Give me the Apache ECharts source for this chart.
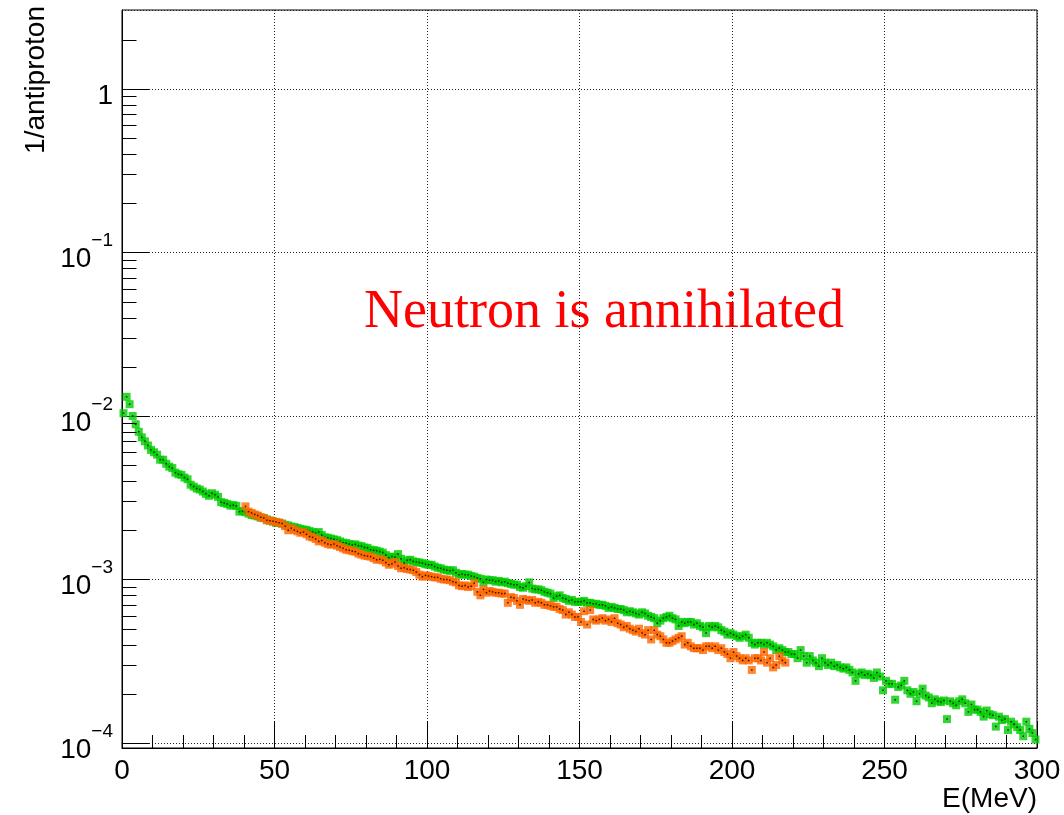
<!DOCTYPE html>
<html>
<head>
<meta charset="utf-8">
<script src="https://cdn.jsdelivr.net/npm/echarts@6/dist/echarts.min.js"></script>
<style>html,body{margin:0;padding:0;background:#fff;}#c{width:1064px;height:815px;}</style>
</head>
<body>
<div id="c"></div>
<script>
// 1 MeV bins; green: 0-300 MeV, orange: 40-218 MeV
const binWidth = 1;
const greenStart = 0;
const orangeStart = 40;
const greenValues = [
0.0104,0.0131,0.0118,0.0100,0.0089,0.0080,0.0074,0.0070,0.0066,0.0062,
0.0060,0.0058,0.0054,0.0054,0.0051,0.0049,0.0048,0.0045,0.0044,0.00436,
0.0042,0.0041,0.0038,0.0037,0.0036,0.00355,0.00345,0.00334,0.00325,0.00337,
0.0033,0.0032,0.00297,0.00294,0.0029,0.00283,0.00285,0.00282,0.0026,0.00262,
0.00258,0.00253,0.00248,0.00246,0.00243,0.00239,0.00237,0.00233,0.00229,0.00226,
0.00222,0.00223,0.00219,0.00216,0.00214,0.00211,0.00209,0.00207,0.00204,0.00202,
0.00201,0.00198,0.00195,0.00192,0.00195,0.00187,0.00181,0.0018,0.00178,0.00176,
0.00174,0.00171,0.00168,0.00167,0.00165,0.00163,0.00164,0.00161,0.0016,0.00157,
0.00156,0.00152,0.00151,0.0015,0.00148,0.00146,0.00141,0.00136,0.00138,0.00137,
0.00143,0.00134,0.00126,0.00131,0.00132,0.00129,0.00128,0.00127,0.00126,0.00124,
0.00123,0.00123,0.0012,0.00118,0.00117,0.00115,0.00114,0.00113,0.00114,0.0011,
0.00107,0.00108,0.00107,0.00107,0.00105,0.00104,0.00102,0.00101,0.00096,0.001,
0.00099,0.00099,0.00097,0.00098,0.00096,0.00097,0.00095,0.00094,0.00093,0.00093,
0.0009,0.00089,0.00091,0.00096,0.00088,0.00087,0.00087,0.00086,0.00084,0.00083,
0.00082,0.00077,0.00079,0.0008,0.00077,0.00076,0.00074,0.00075,0.00073,0.00073,
0.00073,0.00074,0.00072,0.00072,0.00071,0.00071,0.0007,0.0007,0.00069,0.00067,
0.00068,0.00067,0.00066,0.00066,0.00065,0.00063,0.00064,0.00063,0.00062,0.00061,
0.00063,0.00062,0.0006,0.00059,0.00058,0.00054,0.00056,0.00058,0.00059,0.0006,
0.00058,0.00057,0.00052,0.00055,0.00054,0.00055,0.00055,0.00053,0.00054,0.00052,
0.00051,0.00047,0.00052,0.00051,0.00052,0.00051,0.00049,0.00048,0.00046,0.00047,
0.00046,0.00045,0.00044,0.00045,0.00046,0.00044,0.00041,0.0004,0.00041,0.00041,
0.0004,0.00041,0.0004,0.00039,0.00037,0.00038,0.00037,0.00036,0.00036,0.00035,
0.00035,0.00033,0.00037,0.00034,0.00031,0.00034,0.00032,0.00031,0.000295,0.00033,
0.00031,0.0003,0.00031,0.000295,0.0003,0.00029,0.000285,0.00029,0.00028,0.00027,
0.00024,0.000265,0.00027,0.00026,0.000265,0.00026,0.00025,0.00027,0.000255,0.00021,
0.00024,0.00023,0.00023,0.000184,0.00022,0.000225,0.00024,0.00021,0.0002,0.000205,
0.00018,0.0002,0.000215,0.000195,0.00019,0.000175,0.000185,0.00018,0.000178,0.000182,
0.00014,0.00018,0.000175,0.00017,0.00018,0.000185,0.000175,0.000155,0.000172,0.00016,
0.00016,0.000155,0.000145,0.000158,0.00015,0.000148,0.000126,0.000145,0.000138,0.00014,
0.00012,0.000135,0.00013,0.000125,0.00012,0.00011,0.000135,0.000122,0.000115,0.000105
];
const orangeValues = [
0.0028,0.0026,0.00255,0.0025,0.00246,0.0024,0.00238,0.0023,0.00229,0.00227,
0.00225,0.00222,0.0022,0.00212,0.002,0.00206,0.00201,0.00197,0.00193,0.00195,
0.00189,0.00183,0.00181,0.00177,0.00171,0.00173,0.00168,0.00165,0.00163,0.00165,
0.00161,0.00158,0.00155,0.00152,0.00151,0.00149,0.00148,0.00144,0.00142,0.0014,
0.00139,0.00138,0.00135,0.00132,0.00133,0.00131,0.00127,0.00123,0.00125,0.00128,
0.00121,0.00117,0.00118,0.00116,0.00115,0.00114,0.00111,0.00107,0.00104,0.00106,
0.00105,0.00104,0.00103,0.00103,0.00101,0.001,0.001,0.00099,0.00097,0.00096,
0.00092,0.00091,0.00092,0.0009,0.00091,0.00095,0.00084,0.0008,0.00087,0.00083,
0.00085,0.00084,0.00083,0.00083,0.00082,0.00082,0.00072,0.00078,0.00077,0.00074,
0.0007,0.00076,0.00075,0.00074,0.00075,0.00072,0.00073,0.00072,0.0007,0.0007,
0.00069,0.00068,0.00068,0.00066,0.00065,0.00061,0.00063,0.00061,0.00059,0.00059,
0.00055,0.00064,0.00053,0.00065,0.00057,0.00056,0.00057,0.00058,0.00056,0.00057,
0.00055,0.00058,0.00054,0.00053,0.00051,0.00052,0.0005,0.00049,0.00048,0.0005,
0.00047,0.00046,0.00049,0.00043,0.00049,0.00046,0.00045,0.00043,0.00041,0.00041,
0.00042,0.00043,0.00044,0.00045,0.0004,0.00041,0.00039,0.00038,0.00038,0.00038,
0.00037,0.00039,0.00039,0.00038,0.00039,0.00037,0.00038,0.00036,0.00035,0.00033,
0.00036,0.00034,0.00033,0.00032,0.00033,0.00032,0.00028,0.00033,0.00033,0.00032,
0.00036,0.00031,0.00033,0.00029,0.0003,0.00034,0.00032,0.00031
];
const xTickLabels = ['0','50','100','150','200','250','300'];
const yMinorTicks = [2e-4,3e-4,4e-4,5e-4,6e-4,7e-4,8e-4,9e-4,
  2e-3,3e-3,4e-3,5e-3,6e-3,7e-3,8e-3,9e-3,
  2e-2,3e-2,4e-2,5e-2,6e-2,7e-2,8e-2,9e-2,
  0.2,0.3,0.4,0.5,0.6,0.7,0.8,0.9,2];
const xTitle = 'E(MeV)';
const yTitle = '1/antiproton';
const annotation = 'Neutron is annihilated';

const greenData = greenValues.map((v,i)=>[greenStart + (i+0.5)*binWidth, v]);
const orangeData = orangeValues.map((v,i)=>[orangeStart + (i+0.5)*binWidth, v]);

const chart = echarts.init(document.getElementById('c'), null, {renderer:'canvas'});
const FONT = '"Liberation Sans", Arial, sans-serif';
const option = {
  animation: false,
  backgroundColor: '#fff',
  grid: {left:122, right:27, top:10, bottom:67, show:true, borderColor:'#000', borderWidth:1, backgroundColor:'transparent'},
  xAxis: {
    type:'value', min:0, max:300, interval:50,
    axisLine:{show:true, lineStyle:{color:'#000', width:1}},
    axisTick:{show:true, inside:true, length:27, lineStyle:{color:'#000'}},
    minorTick:{show:true, splitNumber:5, length:13, lineStyle:{color:'#000'}},
    splitLine:{show:true, lineStyle:{color:'#222', type:[1,2], width:1}},
    axisLabel:{color:'#000', fontSize:28, fontFamily:FONT, margin:9,
      formatter: v => { const i = Math.round(v/50); return xTickLabels[i] !== undefined ? xTickLabels[i] : ''; }}
  },
  yAxis: {
    type:'log', logBase:10, min:0.932e-4, max:3.04,
    axisLine:{show:true, lineStyle:{color:'#000', width:1}},
    axisTick:{show:true, inside:true, length:27, lineStyle:{color:'#000'}},
    splitLine:{show:true, lineStyle:{color:'#222', type:[1,2], width:1}},
    axisLabel:{color:'#000', fontFamily:FONT, margin:9, showMinLabel:false, showMaxLabel:false,
      formatter: v => {
        const l = Math.log10(v); const e = Math.round(l);
        if (Math.abs(l-e) > 0.01) return '';
        if (e === 0) return '{b|1}';
        return '{b|10}{s|−' + (-e) + '}';
      },
      rich:{
        b:{fontSize:28, fontFamily:FONT, color:'#000', lineHeight:42, verticalAlign:'bottom'},
        s:{fontSize:19, fontFamily:FONT, color:'#000', lineHeight:42, verticalAlign:'top'}
      }
    }
  },
  series: [
    {type:'scatter', data:greenData, symbol:'rect', symbolSize:8, itemStyle:{color:'#00cc00'}, z:2, silent:true},
    {type:'scatter', data:greenData, symbol:'rect', symbolSize:1.5, itemStyle:{color:'#000'}, z:3, silent:true},
    {type:'scatter', data:orangeData, symbol:'rect', symbolSize:8, itemStyle:{color:'#ff6600'}, z:4, silent:true},
    {type:'scatter', data:orangeData, symbol:'rect', symbolSize:1.5, itemStyle:{color:'#000'}, z:5, silent:true},
    {type:'custom', silent:true, z:6, clip:false,
      data: yMinorTicks.map(v=>[0, v]),
      renderItem: (params, api) => {
        const p = api.coord([api.value(0), api.value(1)]);
        const x = Math.round(p[0]) + 0.5, y = Math.round(p[1]) + 0.5;
        return {type:'line', shape:{x1:x, y1:y, x2:x+14, y2:y}, style:{stroke:'#000', lineWidth:1}};
      }
    }
  ],
  graphic: [
    {type:'text', x:364, y:313, silent:true,
      style:{text:annotation, font:'54px "Liberation Serif", serif', fill:'#ff0000', verticalAlign:'middle', align:'left'}},
    {type:'text', x:1037, y:799, silent:true,
      style:{text:xTitle, font:'28px "Liberation Sans", Arial, sans-serif', fill:'#000', verticalAlign:'middle', align:'right'}},
    {type:'text', x:36, y:6, rotation:Math.PI/2, silent:true,
      style:{text:yTitle, font:'28px "Liberation Sans", Arial, sans-serif', fill:'#000', verticalAlign:'middle', align:'right'}}
  ]
};
chart.setOption(option);
</script>
</body>
</html>
